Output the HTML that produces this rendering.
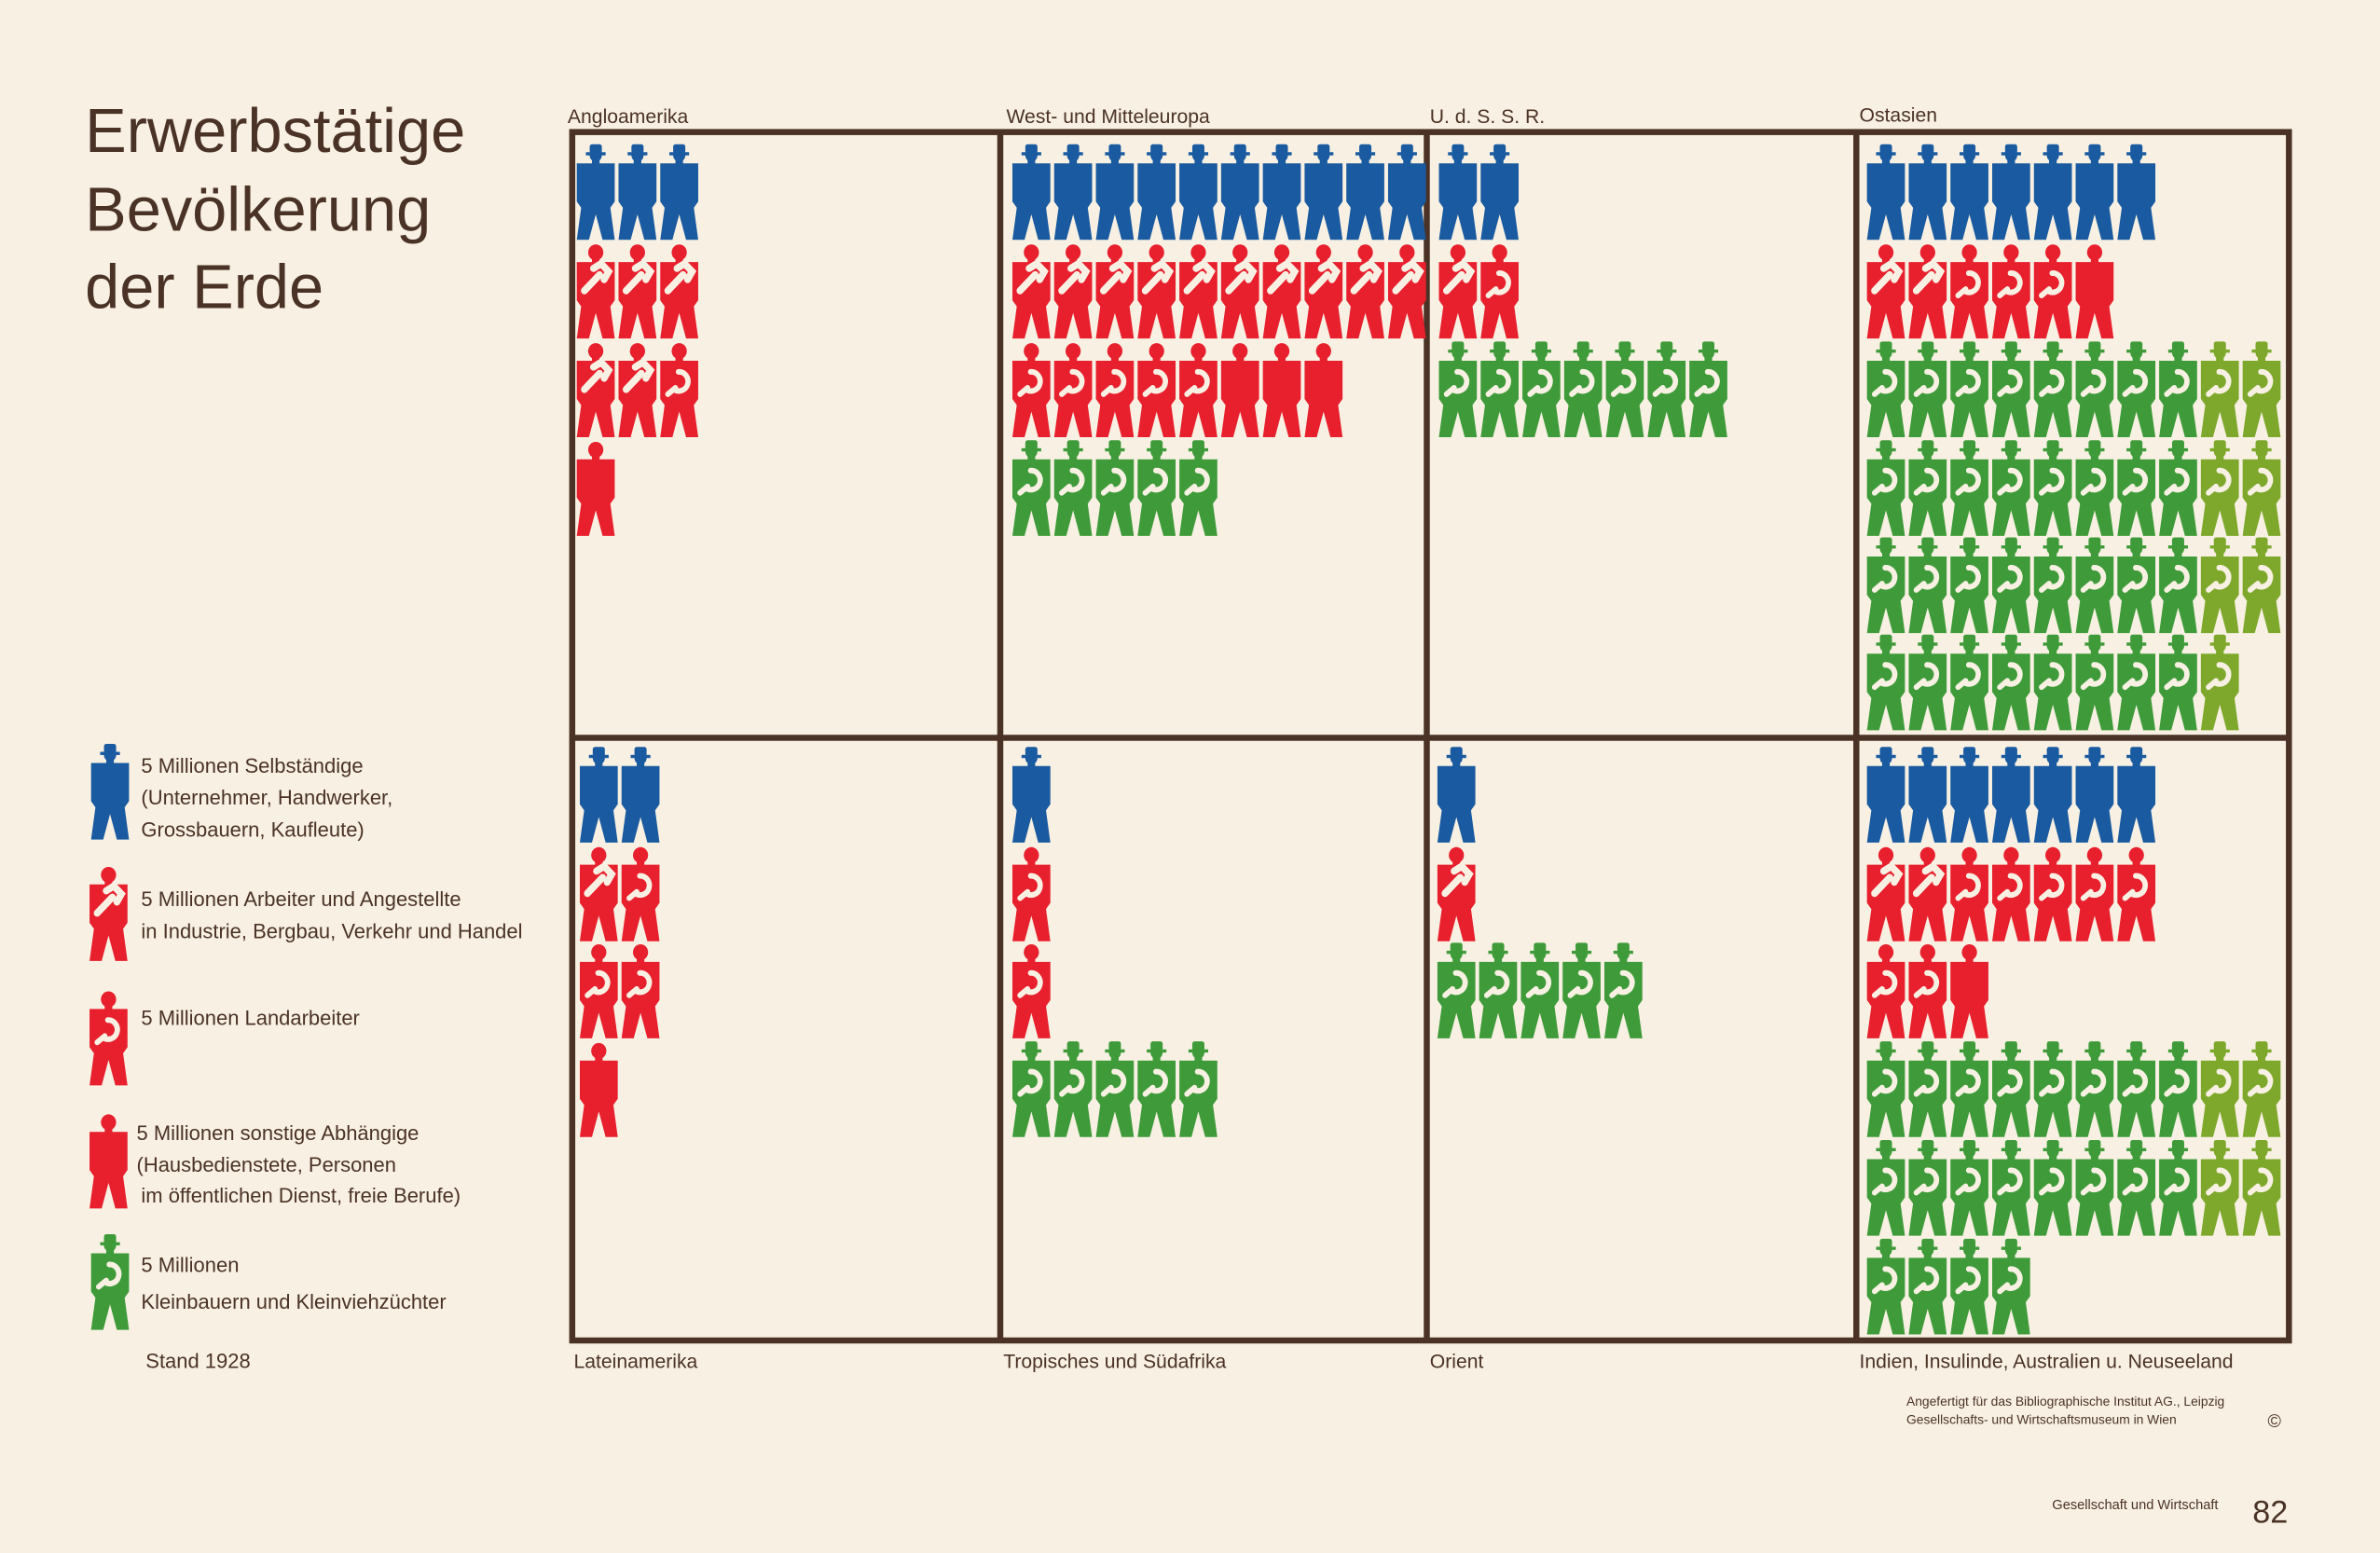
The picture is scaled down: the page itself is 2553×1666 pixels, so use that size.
<!DOCTYPE html>
<html><head><meta charset="utf-8"><style>
html,body{margin:0;padding:0;background:#f8f1e3;}
svg{display:block;}
text{font-family:"Liberation Sans",sans-serif;fill:#4a3226;}
</style></head><body>
<svg id="s" width="2553" height="1666" viewBox="0 0 1568 1023" preserveAspectRatio="none" xmlns="http://www.w3.org/2000/svg">
<defs>
<g id="body">
<path d="M0,12 H25 V36 L22,40 H3 L0,36Z M3,39 H22 L25,60 H17 L12.5,44 L8,60 H0Z"/>
<rect x="10" y="8" width="5" height="5"/>
</g>
<g id="plain"><use href="#body"/><circle cx="12.5" cy="6" r="5"/></g>
<g id="hat"><use href="#body"/><circle cx="12.5" cy="7" r="4"/><rect x="6" y="5" width="13" height="2"/><rect x="8.5" y="0" width="8" height="6" rx="1.5"/></g>
<g id="ham"><path d="M5,30 L15,20 M11,16 L16,13 L21,18 L18,23" stroke="#f8f1e3" stroke-width="4.5" fill="none" stroke-linecap="round"/></g>
<g id="sic"><path d="M12,19 A6,6 0 1 1 9,30 M10,29 L5,33" stroke="#f8f1e3" stroke-width="3.5" fill="none" stroke-linecap="round"/></g>
</defs>
<rect x="0" y="0" width="1568" height="1023" fill="#f8f1e3"/>
<g fill="none" stroke="#4a3226" stroke-width="4">
<rect x="377" y="87" width="1131" height="796"/>
<line x1="659" y1="87" x2="659" y2="883"/><line x1="940" y1="87" x2="940" y2="883"/><line x1="1223" y1="87" x2="1223" y2="883"/>
<line x1="377" y1="486" x2="1508" y2="486"/>
</g>
<g id="icons"></g>
<text x="56" y="100" font-size="41">Erwerbstätige</text>
<text x="56" y="152" font-size="41">Bevölkerung</text>
<text x="56" y="203" font-size="41">der Erde</text>
<g font-size="13">
<text x="374" y="81">Angloamerika</text><text x="663" y="81">West-  und  Mitteleuropa</text>
<text x="942" y="81">U. d. S. S. R.</text><text x="1225" y="80">Ostasien</text>
<text x="378" y="901">Lateinamerika</text><text x="661" y="901">Tropisches  und  Südafrika</text>
<text x="942" y="901">Orient</text><text x="1225" y="901">Indien, Insulinde, Australien  u.  Neuseeland</text>
</g>
<g font-size="13.5">
<text x="93" y="509">5 Millionen  Selbständige</text><text x="93" y="530">(Unternehmer,  Handwerker,</text><text x="93" y="551">Grossbauern,  Kaufleute)</text>
<text x="93" y="597">5 Millionen  Arbeiter  und  Angestellte</text><text x="93" y="618">in  Industrie, Bergbau, Verkehr  und  Handel</text>
<text x="93" y="675">5  Millionen  Landarbeiter</text>
<text x="90" y="751">5  Millionen  sonstige  Abhängige</text><text x="90" y="772">(Hausbedienstete,   Personen</text><text x="93" y="792">im  öffentlichen  Dienst,  freie  Berufe)</text>
<text x="93" y="838">5 Millionen</text><text x="93" y="862">Kleinbauern  und  Kleinviehzüchter</text>
<text x="96" y="901">Stand 1928</text>
</g>
<g font-size="8.5"><text x="1256" y="926">Angefertigt für das Bibliographische Institut AG., Leipzig</text>
<text x="1256" y="938">Gesellschafts- und Wirtschaftsmuseum in Wien</text><text x="1494" y="940" font-size="12">©</text>
<text x="1352" y="994" font-size="9">Gesellschaft und Wirtschaft</text></g>
<text x="1484" y="1003" font-size="21">82</text>
</svg>
<script>
var B="#1a5aa0",R="#e8202e",G="#3f9b3a",O="#7ea82c";
var g=document.getElementById('icons'),NS="http://www.w3.org/2000/svg";
function ic(x,y,t){var e=document.createElementNS(NS,'g');e.setAttribute('transform','translate('+x+','+y+') scale(1,1.05)');
 var c=t[0],col=c=='b'?B:c=='g'?G:c=='o'?O:R;e.setAttribute('fill',col);
 var u=document.createElementNS(NS,'use');u.setAttribute('href',(c=='b'||c=='g'||c=='o')?'#hat':'#plain');e.appendChild(u);
 if(t[1]=='h'||t[1]=='s'){var v=document.createElementNS(NS,'use');v.setAttribute('href',t[1]=='h'?'#ham':'#sic');e.appendChild(v);}
 g.appendChild(e);}
function rep(t,n){var a=[];for(var i=0;i<n;i++)a.push(t);return a;}
function cell(x0,ys,rows){rows.forEach(function(r,i){r.forEach(function(t,j){ic(x0+j*27.5,ys[i],t);});});}
var T=[95,160,225,290,354,418],Bt=[492,557,621,686,751,816];
cell(380,T,[rep('b',3),rep('rh',3),['rh','rh','rs'],['r']]);
cell(667,T,[rep('b',10),rep('rh',10),rep('rs',5).concat(rep('r',3)),rep('gs',5)]);
cell(948,T,[rep('b',2),['rh','rs'],rep('gs',7)]);
var og=function(n){var a=[];for(var i=0;i<n;i++)a.push(i>=8?'os':'gs');return a;};
cell(1230,T,[rep('b',7),['rh','rh','rs','rs','rs','r'],og(10),og(10),og(10),og(9)]);
cell(382,Bt,[rep('b',2),['rh','rs'],['rs','rs'],['r']]);
cell(667,Bt,[['b'],['rs'],['rs'],rep('gs',5)]);
cell(947,Bt,[['b'],['rh'],rep('gs',5)]);
cell(1230,Bt,[rep('b',7),['rh','rh','rs','rs','rs','rs','rs'],['rs','rs','r'],og(10),og(10),rep('gs',4)]);
ic(60,490,'b');ic(59,570,'rh');ic(59,652,'rs');ic(59,733,'r');ic(60,813,'gs');
</script>
</body></html>
